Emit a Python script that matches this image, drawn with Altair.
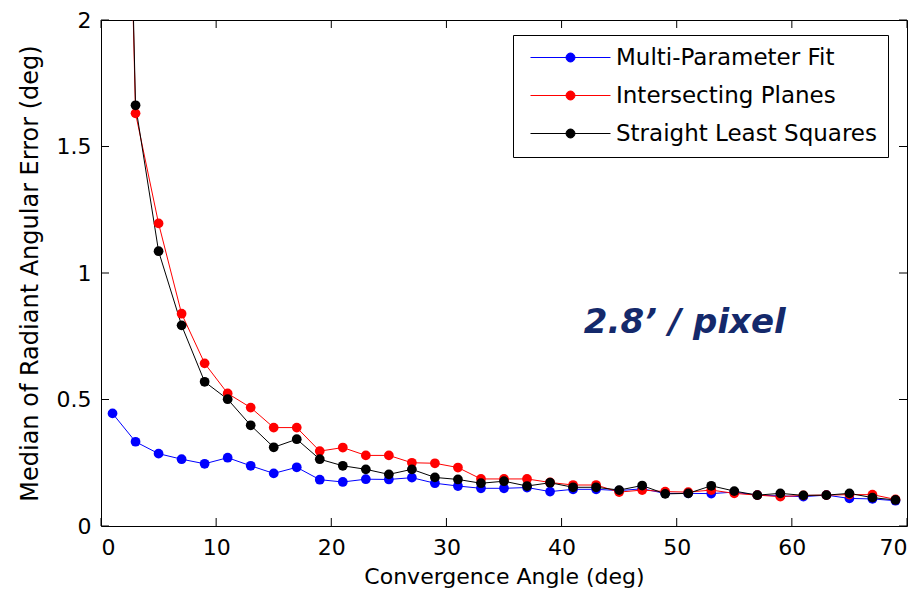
import altair as alt
import pandas as pd

angles = list(range(1, 70, 2))
multi_param = [0.445, 0.333, 0.286, 0.264, 0.246, 0.270, 0.238, 0.208, 0.232, 0.183,
               0.174, 0.185, 0.184, 0.191, 0.169, 0.158, 0.149, 0.149, 0.152, 0.136,
               0.145, 0.145, 0.140, 0.147, 0.129, 0.129, 0.128, 0.134, 0.122, 0.119,
               0.116, 0.122, 0.109, 0.107, 0.100]
intersecting = [5.4, 1.631, 1.196, 0.839, 0.643, 0.524, 0.468, 0.389, 0.389, 0.296,
                0.310, 0.279, 0.279, 0.250, 0.248, 0.231, 0.186, 0.186, 0.186, 0.172,
                0.162, 0.162, 0.134, 0.142, 0.136, 0.134, 0.142, 0.129, 0.122, 0.116,
                0.121, 0.122, 0.124, 0.124, 0.105]
straight_ls = [5.5, 1.663, 1.086, 0.793, 0.570, 0.501, 0.398, 0.311, 0.343, 0.264,
               0.238, 0.224, 0.204, 0.224, 0.192, 0.184, 0.169, 0.177, 0.158, 0.171,
               0.153, 0.153, 0.142, 0.160, 0.127, 0.129, 0.159, 0.138, 0.122, 0.129,
               0.121, 0.122, 0.129, 0.112, 0.103]
series_names = ["Multi-Parameter Fit", "Intersecting Planes", "Straight Least Squares"]
series_colors = ["#0000FF", "#FF0000", "#000000"]
x_ticks = [0, 10, 20, 30, 40, 50, 60, 70]
y_ticks = [0, 0.5, 1, 1.5, 2]
note_text = ["2.8\u2019 / pixel"]
note_x = [50.7]
note_y = [0.763]

rows = []
for name, vals in zip(series_names, [multi_param, intersecting, straight_ls]):
    for i, (a, v) in enumerate(zip(angles, vals)):
        rows.append({"angle": a, "error": v, "series": name, "idx": i})
df = pd.DataFrame(rows)

W, H = 806, 506
FONT = "DejaVu Sans"
xs = alt.Scale(domain=[0, 70], nice=False, zero=False)
ys = alt.Scale(domain=[0, 2], nice=False, zero=False)

SYMBOL = ("M-8,0L8,0M-0.9,0A0.9,0.9,0,1,0,0.9,0A0.9,0.9,0,1,0,-0.9,0Z")
SERIES_COLOR = alt.ExprRef(expr="scale('color', datum.value)")

legend = alt.Legend(
    title=None, orient="none", legendX=412, legendY=15,
    symbolType=SYMBOL, symbolSize=100, symbolStrokeWidth=1, symbolOffset=35,
    symbolFillColor=SERIES_COLOR, symbolStrokeColor=SERIES_COLOR, symbolOpacity=1,
    labelFont=FONT, labelFontSize=23, labelColor="black", labelOffset=34,
    labelBaseline="middle", labelLimit=500,
    strokeColor="black", fillColor="white", padding=11, rowPadding=14,
    cornerRadius=0,
)

color = alt.Color("series:N", scale=alt.Scale(domain=series_names, range=series_colors),
                  sort=series_names, legend=legend)

x_axis = alt.Axis(values=x_ticks, ticks=False, domain=False, grid=False, labelPadding=11,
                  title="Convergence Angle (deg)", titleFontSize=22, titlePadding=8)
y_axis = alt.Axis(values=y_ticks, ticks=False, domain=False, grid=False, labelPadding=10,
                  format="~g", title="Median of Radiant Angular Error (deg)",
                  titleFontSize=24, titlePadding=14)

base = alt.Chart(df)
lines = base.mark_line(strokeWidth=1, clip=True).encode(
    x=alt.X("angle:Q", scale=xs, axis=x_axis),
    y=alt.Y("error:Q", scale=ys, axis=y_axis),
    color=color,
    detail="series:N",
    order="idx:Q",
)
points = base.mark_circle(size=95, opacity=1, clip=True).encode(
    x=alt.X("angle:Q", scale=xs, axis=x_axis),
    y=alt.Y("error:Q", scale=ys, axis=y_axis),
    color=color,
)

tx = pd.DataFrame({"t": x_ticks})
ty = pd.DataFrame({"t": y_ticks})
TL = 8
tick_bottom = alt.Chart(tx).mark_rule(color="black", strokeWidth=1).encode(
    x=alt.X("t:Q", scale=xs, axis=x_axis), y=alt.value(H), y2=alt.value(H - TL))
tick_top = alt.Chart(tx).mark_rule(color="black", strokeWidth=1).encode(
    x=alt.X("t:Q", scale=xs, axis=x_axis), y=alt.value(0), y2=alt.value(TL))
tick_left = alt.Chart(ty).mark_rule(color="black", strokeWidth=1).encode(
    y=alt.Y("t:Q", scale=ys, axis=y_axis), x=alt.value(0), x2=alt.value(TL))
tick_right = alt.Chart(ty).mark_rule(color="black", strokeWidth=1).encode(
    y=alt.Y("t:Q", scale=ys, axis=y_axis), x=alt.value(W), x2=alt.value(W - TL))

note = alt.Chart(pd.DataFrame({"x": note_x, "y": note_y, "t": note_text})).mark_text(
    font="DejaVu Sans", fontSize=34, fontWeight="bold", fontStyle="italic",
    color="#14296B", align="center", baseline="alphabetic",
).encode(x=alt.X("x:Q", scale=xs, axis=x_axis), y=alt.Y("y:Q", scale=ys, axis=y_axis), text="t:N")

chart = alt.layer(lines, points, tick_bottom, tick_top, tick_left, tick_right, note).properties(
    width=W, height=H, autosize="none",
    padding={"left": 93, "top": 12, "right": 7, "bottom": 62},
    background="white",
).configure_view(stroke="black", strokeWidth=1).configure_axis(
    labelFont=FONT, labelFontSize=22, labelColor="black",
    titleFont=FONT, titleFontWeight="normal", titleColor="black",
)

chart.save("out.html", embed_options={"renderer": "svg", "actions": False})
